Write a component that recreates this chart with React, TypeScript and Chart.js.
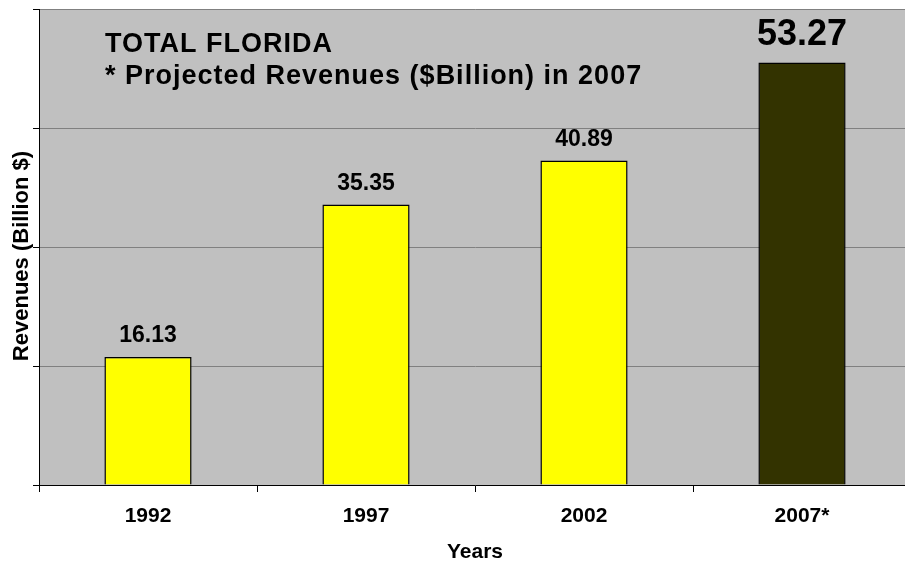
import React, { useEffect, useRef } from "react";
import { Chart, registerables } from "chart.js";

Chart.register(...registerables);

const categories = ["1992", "1997", "2002", "2007*"];
const revenues = [16.13, 35.35, 40.89, 53.27];
const valueLabels = ["16.13", "35.35", "40.89", "53.27"];
const barColors = ["#FFFF00", "#FFFF00", "#FFFF00", "#333300"];
const labelSizes = [23, 23, 23, 36];
const yTicks = [0, 15, 30, 45, 60];
const titleLines = ["TOTAL FLORIDA", "* Projected Revenues ($Billion) in 2007"];
const yTitle = "Revenues (Billion $)";
const xTitle = "Years";

const FONT = "'Liberation Sans', Arial, sans-serif";

export default function App() {
  const ref = useRef<HTMLCanvasElement | null>(null);

  useEffect(() => {
    if (!ref.current) return;

    const bgPlugin = {
      id: "plotBg",
      beforeDraw(chart: any) {
        const { ctx, chartArea } = chart;
        ctx.save();
        ctx.fillStyle = "#C0C0C0";
        ctx.fillRect(chartArea.left, chartArea.top, chartArea.right - chartArea.left, chartArea.bottom - chartArea.top);
        ctx.restore();
      },
    };

    const textPlugin = {
      id: "texts",
      afterDatasetsDraw(chart: any) {
        const { ctx } = chart;
        const meta = chart.getDatasetMeta(0);
        ctx.save();
        ctx.fillStyle = "#000";
        ctx.textAlign = "center";
        ctx.textBaseline = "alphabetic";
        meta.data.forEach((bar: any, i: number) => {
          const size = labelSizes[i];
          ctx.font = `bold ${size}px ${FONT}`;
          const gap = size > 30 ? 17 : 15;
          ctx.fillText(valueLabels[i], bar.x, bar.y - gap);
        });
        // annotation title
        ctx.textAlign = "left";
        ctx.font = `bold 27px ${FONT}`;
        try { (ctx as any).letterSpacing = "1px"; } catch (e) {}
        ctx.fillText(titleLines[0], 105, 52);
        ctx.fillText(titleLines[1], 105, 84);
        try { (ctx as any).letterSpacing = "0px"; } catch (e) {}
        // y axis title
        ctx.translate(22, 256);
        ctx.rotate(-Math.PI / 2);
        ctx.textAlign = "center";
        ctx.textBaseline = "middle";
        ctx.font = `bold 22px ${FONT}`;
        ctx.fillText(yTitle, 0, 0);
        ctx.restore();
      },
    };

    const chart = new Chart(ref.current, {
      type: "bar",
      data: {
        labels: categories,
        datasets: [
          {
            data: revenues,
            backgroundColor: barColors,
            borderColor: "#000000",
            borderWidth: 1.5,
            barPercentage: 0.4,
            categoryPercentage: 1,
          },
        ],
      },
      options: {
        animation: false,
        responsive: true,
        maintainAspectRatio: false,
        layout: { padding: { top: 9, left: 0, right: 0, bottom: 0 } },
        plugins: { legend: { display: false }, tooltip: { enabled: false }, title: { display: false } },
        scales: {
          y: {
            min: 0,
            max: 60,
            afterBuildTicks: (s: any) => {
              s.ticks = yTicks.map((v) => ({ value: v }));
            },
            ticks: { display: false },
            grid: { color: "#808080", tickColor: "#000000", tickLength: 6, drawTicks: true, lineWidth: 1 },
            border: { color: "#000000", width: 1 },
            afterFit: (s: any) => {
              s.width = 39;
            },
          },
          x: {
            grid: { offset: true, drawOnChartArea: false, tickColor: "#000000", tickLength: 7, drawTicks: true },
            border: { color: "#000000", width: 1 },
            ticks: { color: "#000", font: { family: FONT, size: 21, weight: "bold" }, padding: 12 },
            title: {
              display: true,
              text: xTitle,
              color: "#000",
              font: { family: FONT, size: 21, weight: "bold", lineHeight: 1.0 },
              padding: { top: 0, bottom: 0 },
            },
            afterFit: (s: any) => {
              s.height = 78;
            },
          },
        },
      },
      plugins: [bgPlugin, textPlugin],
    });
    return () => chart.destroy();
  }, []);

  return (
    <div style={{ position: "fixed", left: 0, top: 0, width: 911, height: 563, background: "#fff" }}>
      <canvas ref={ref} />
    </div>
  );
}
